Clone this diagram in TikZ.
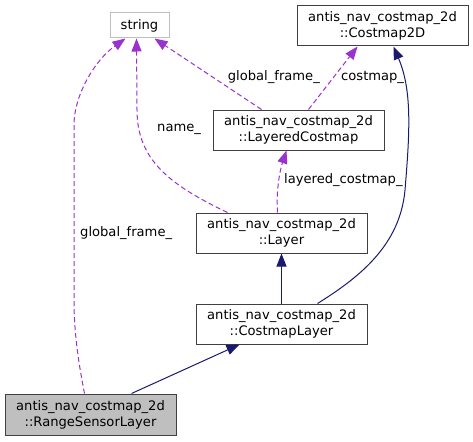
\documentclass[tikz,border=0pt]{standalone}
\usepackage{fontspec}
\setmainfont{DejaVu Sans}
\usetikzlibrary{arrows.meta,calc}
\definecolor{edgepurple}{HTML}{9A32CD}
\definecolor{edgenavy}{HTML}{191970}
\definecolor{boxborder}{HTML}{404040}
\definecolor{graybox}{HTML}{BFBFBF}
\tikzset{
  cls/.style={draw=boxborder,line width=1pt,fill=white,rectangle,inner sep=0pt,
    minimum width=171pt,minimum height=40pt,align=center,
    font=\fontsize{13.1}{16}\selectfont},
  strbox/.style={draw=graybox,line width=1pt,fill=white,rectangle,inner sep=0pt,
    minimum width=59pt,minimum height=25pt,font=\fontsize{13.1}{16}\selectfont},
  usage/.style={draw=edgepurple,line width=1pt,dash pattern=on 5pt off 3pt,
    -{Triangle[length=13pt,width=10pt,fill=edgepurple]}},
  inherit/.style={draw=edgenavy,line width=1pt,
    -{Triangle[length=13pt,width=10pt,fill=edgenavy]}},
  lbl/.style={inner sep=0pt,font=\fontsize{13.1}{16}\selectfont},
}
\begin{document}
\begin{tikzpicture}[x=1pt,y=-1pt]
\useasboundingbox (0,0) rectangle (473,441);
\node[strbox] (str) at (139.5,25.5) {string};
\node[cls] (c2d) at (382.5,26) {antis\_nav\_costmap\_2d\\::Costmap2D};
\node[cls] (lc) at (298.5,130) {antis\_nav\_costmap\_2d\\::LayeredCostmap};
\node[cls] (lay) at (281.5,233) {antis\_nav\_costmap\_2d\\::Layer};
\node[cls] (cl) at (281.5,324) {antis\_nav\_costmap\_2d\\::CostmapLayer};
\node[cls,fill=graybox,minimum height=41pt] (rsl) at (90.5,414.5) {antis\_nav\_costmap\_2d\\::RangeSensorLayer};

% inheritance
\draw[inherit] (cl.north) -- (lay.south);
\draw[inherit] ([xshift=122pt]cl.north west) .. controls (360,277) and (400,245) .. (405,190)
  .. controls (410,130) and (412,90) .. ([xshift=97pt]c2d.south west);
\draw[inherit] ([xshift=127pt]rsl.north west) -- ([xshift=44pt]cl.south west);

% usage
\draw[usage] ([xshift=80pt]rsl.north west) .. controls (79,365) and (74,335) .. (74,300)
  -- (74,125) .. controls (74,95) and (95,60) .. ([xshift=16pt]str.south west);
\draw[usage] ([xshift=32pt]lay.north west) .. controls (170,185) and (137,160) .. (137,110)
  -- ([xshift=27pt]str.south west);
\draw[usage] ([xshift=49pt]lc.north west) -- ([xshift=45pt]str.south west);
\draw[usage] ([xshift=96pt]lc.north west) -- ([xshift=61pt]c2d.south west);
\draw[usage] ([xshift=82pt]lay.north west) .. controls (276,190) and (280,170) .. ([xshift=74pt]lc.south west);

% labels
\node[lbl,anchor=west] (l1) at (80,233) {global\_frame\_};
\node[lbl,anchor=west] (l2) at (157,129) {name\_};
\node[lbl,anchor=east] (l3) at (320,77) {global\_frame\_};
\node[lbl,anchor=west] (l4) at (341,77) {costmap\_};
\node[lbl,anchor=west] (l5) at (284,180) {layered\_costmap\_};
\end{tikzpicture}
\end{document}
